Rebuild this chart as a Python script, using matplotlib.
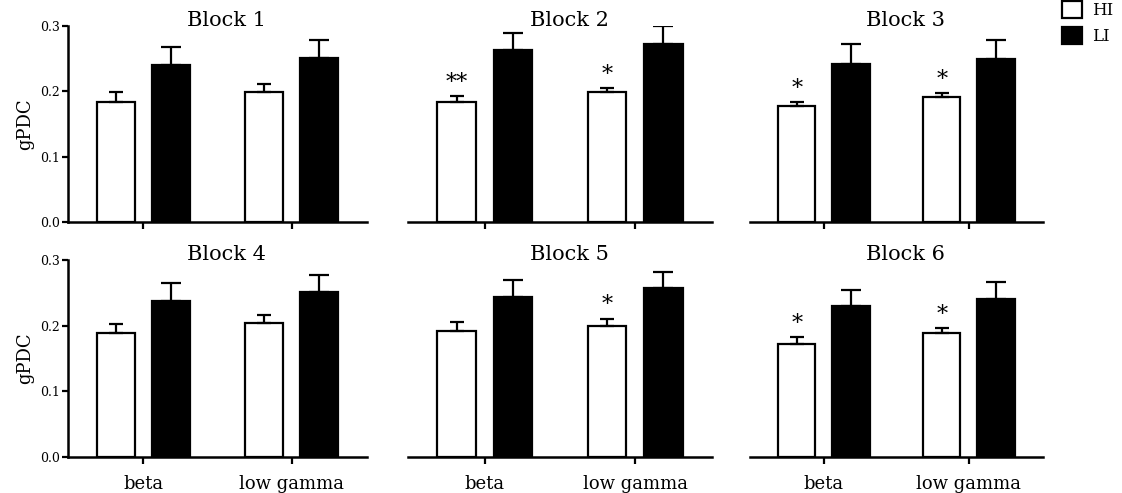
import matplotlib
matplotlib.use("Agg")
import matplotlib.pyplot as plt
import numpy as np
from matplotlib.patches import Patch

plt.rcParams["font.family"] = ["DejaVu Serif"]

bands = ["beta", "low gamma"]
titles = ["Block 1", "Block 2", "Block 3", "Block 4", "Block 5", "Block 6"]
hi_mean = [[0.184, 0.199], [0.184, 0.198], [0.177, 0.191],
           [0.189, 0.204], [0.192, 0.200], [0.172, 0.189]]
hi_err = [[0.014, 0.012], [0.008, 0.0065], [0.006, 0.006],
          [0.014, 0.012], [0.014, 0.011], [0.010, 0.007]]
li_mean = [[0.240, 0.250], [0.263, 0.272], [0.241, 0.249],
           [0.238, 0.251], [0.2435, 0.2575], [0.230, 0.241]]
li_err = [[0.027, 0.028], [0.026, 0.027], [0.031, 0.029],
          [0.027, 0.026], [0.026, 0.025], [0.024, 0.026]]
stars = [["", ""], ["**", "*"], ["*", "*"],
         ["", ""], ["", "*"], ["*", "*"]]

fig = plt.figure(figsize=(11.22, 4.93), dpi=100)
lefts = [0.0606, 0.3636, 0.6684]
widths = [0.2665, 0.271, 0.261]
bottoms = [0.5497, 0.074]
h = 0.398

x = np.arange(len(bands))
bw = 0.257
off = 0.187

for i in range(6):
    r, c = divmod(i, 3)
    ax = fig.add_axes([lefts[c], bottoms[r], widths[c], h])
    ax.bar(x - off, hi_mean[i], bw, color="white", edgecolor="black", linewidth=1.6)
    ax.bar(x + off, li_mean[i], bw, color="black", edgecolor="black", linewidth=1.6)
    ax.errorbar(x - off, hi_mean[i], yerr=[np.zeros(2), hi_err[i]], fmt="none",
                ecolor="black", elinewidth=1.6, capsize=5, capthick=1.6)
    ax.errorbar(x + off, li_mean[i], yerr=[np.zeros(2), li_err[i]], fmt="none",
                ecolor="black", elinewidth=1.6, capsize=7, capthick=1.6)
    for j in range(2):
        if stars[i][j]:
            ax.text(x[j] - off, hi_mean[i][j] + hi_err[i][j] + 0.004, stars[i][j],
                    ha="center", va="bottom", fontsize=16)
    ax.set_xlim(-0.51, 1.51)
    ax.set_ylim(0, 0.3)
    ax.set_xticks(x)
    if r == 1:
        ax.set_xticklabels(bands, fontsize=13)
    else:
        ax.set_xticklabels([])
    ax.tick_params(axis="x", length=5, width=1.6, pad=8)
    for s in ["top", "right"]:
        ax.spines[s].set_visible(False)
    ax.spines["bottom"].set_linewidth(1.8)
    if c == 0:
        ax.set_yticks([0.0, 0.1, 0.2, 0.3])
        ax.set_yticklabels(["0.0", "0.1", "0.2", "0.3"], fontsize=9)
        ax.tick_params(axis="y", length=4, width=1.6, pad=2)
        ax.spines["left"].set_linewidth(1.8)
        ax.set_ylabel("gPDC", fontsize=13, labelpad=4)
    else:
        ax.spines["left"].set_visible(False)
        ax.set_yticks([])
    ax.set_title(titles[i], fontsize=15, x=0.53, y=1.0, pad=0)
    ax.patch.set_alpha(0)

handles = [Patch(facecolor="white", edgecolor="black", linewidth=1.6),
           Patch(facecolor="black", edgecolor="black", linewidth=1.6)]
fig.legend(handles, ["HI", "LI"], loc="upper left", bbox_to_anchor=(0.941, 1.012),
           frameon=False, fontsize=12, handlelength=1.2, handleheight=1.2,
           handletextpad=0.6, labelspacing=0.5, borderaxespad=0)

fig.savefig("out.png", dpi=100)
